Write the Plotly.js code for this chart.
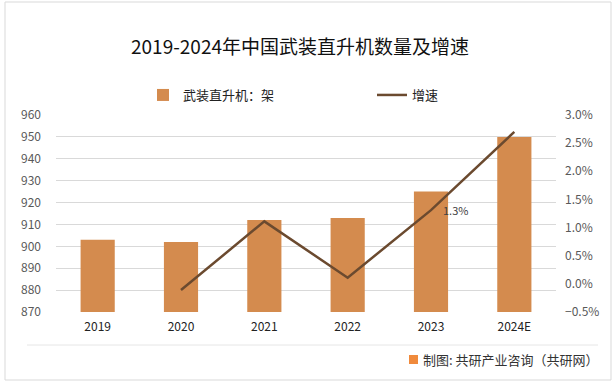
<!DOCTYPE html>
<html>
<head>
<meta charset="utf-8">
<script src="https://cdn.plot.ly/plotly-3.0.1.min.js"></script>
<style>html,body{margin:0;padding:0;background:#fff;}#chart{width:615px;height:384px;}</style>
</head>
<body>
<div id="chart"></div>
<script>
var years = ['2019', '2020', '2021', '2022', '2023', '2024E'];
var counts = [903, 902, 912, 913, 925, 950];
var growth = [null, -0.0011, 0.0111, 0.0011, 0.0131, 0.027];
var growthLabels = ['', '', '', '', '1.3%', ''];
var yTicks = [870, 880, 890, 900, 910, 920, 930, 940, 950, 960];
var y2Ticks = [-0.005, 0, 0.005, 0.01, 0.015, 0.02, 0.025, 0.03];

var FONT = '"Noto Sans CJK SC", "Noto Sans", sans-serif';
var BAR_COLOR = '#D48B4E';

var traces = [
  {
    type: 'bar', name: '武装直升机：架', x: years, y: counts,
    marker: {color: BAR_COLOR}, yaxis: 'y', legend: 'legend',
    hoverinfo: 'skip'
  },
  {
    type: 'scatter', mode: 'lines', name: '增速', x: years, y: growth,
    line: {color: '#6B4A2F', width: 2.5}, yaxis: 'y2', legend: 'legend2',
    connectgaps: false, hoverinfo: 'skip'
  }
];

var px = function (v) { return (v - 56) / 500; };
var py = function (v) { return (312 - v) / 197; };

// labels placed at the category index of the data point (category axis)
var labelAnnotations = [];
growthLabels.forEach(function (t, i) {
  if (t) {
    labelAnnotations.push({
      text: t, x: i, y: growth[i], xref: 'x', yref: 'y2',
      xanchor: 'left', yanchor: 'middle', xshift: 10, yshift: 0, showarrow: false,
      font: {family: FONT, size: 11, color: '#404040'}
    });
  }
});

var layout = {
  width: 615, height: 384,
  margin: {l: 56, r: 59, t: 115, b: 72},
  paper_bgcolor: '#fff', plot_bgcolor: '#fff',
  font: {family: FONT, size: 12, color: '#595959'},
  title: {
    text: '2019-2024年中国武装直升机数量及增速',
    font: {family: FONT, size: 19, color: '#111'},
    x: 300 / 615, xanchor: 'center', xref: 'container',
    y: 1 - 47 / 384, yanchor: 'middle', yref: 'container'
  },
  bargap: 0.59,
  xaxis: {
    type: 'category', categoryorder: 'array', categoryarray: years,
    range: [-0.5, years.length - 0.5],
    showgrid: false, zeroline: false, showline: false,
    ticks: '', tickfont: {family: FONT, size: 12, color: '#222'},
    ticklabelstandoff: 6
  },
  yaxis: {
    range: [870, 960], tickvals: yTicks, showgrid: true, gridcolor: '#D9D9D9',
    gridwidth: 1, zeroline: false, showline: false, ticks: '',
    tickfont: {family: FONT, size: 12, color: '#595959'},
    ticklabelstandoff: 14
  },
  yaxis2: {
    overlaying: 'y', side: 'right', range: [-0.005, 0.03], tickvals: y2Ticks,
    tickformat: '.1%', showgrid: false, zeroline: false, showline: false, ticks: '',
    tickfont: {family: FONT, size: 12, color: '#595959'},
    ticklabelstandoff: 8
  },
  showlegend: true,
  legend: {
    orientation: 'h', xref: 'container', yref: 'container',
    x: 143 / 615, xanchor: 'left', y: 1 - 95 / 384, yanchor: 'middle',
    font: {family: FONT, size: 13, color: '#222'}, bgcolor: 'rgba(0,0,0,0)'
  },
  legend2: {
    orientation: 'h', xref: 'container', yref: 'container',
    x: 372 / 615, xanchor: 'left', y: 1 - 95 / 384, yanchor: 'middle',
    font: {family: FONT, size: 13, color: '#222'}, bgcolor: 'rgba(0,0,0,0)'
  },
  shapes: [
    {type: 'rect', xref: 'paper', yref: 'paper', x0: px(5), x1: px(611), y0: py(380), y1: py(2),
     line: {color: '#D9D9D9', width: 1}, fillcolor: 'rgba(0,0,0,0)', layer: 'below'},
    {type: 'line', xref: 'paper', yref: 'paper', x0: px(27), x1: px(598), y0: py(345), y1: py(345),
     line: {color: '#E6E6E6', width: 1}},
    {type: 'rect', xref: 'paper', yref: 'paper', x0: px(409), x1: px(418), y0: py(364), y1: py(355),
     line: {width: 0}, fillcolor: '#F08A3C'}
  ],
  annotations: labelAnnotations.concat([
    {text: '制图: 共研产业咨询（共研网）', xref: 'paper', yref: 'paper', x: px(601), y: py(359),
     xanchor: 'right', yanchor: 'middle', showarrow: false,
     font: {family: FONT, size: 13, color: '#333'}}
  ])
};

Plotly.newPlot('chart', traces, layout, {displayModeBar: false, staticPlot: true});
</script>
</body>
</html>
